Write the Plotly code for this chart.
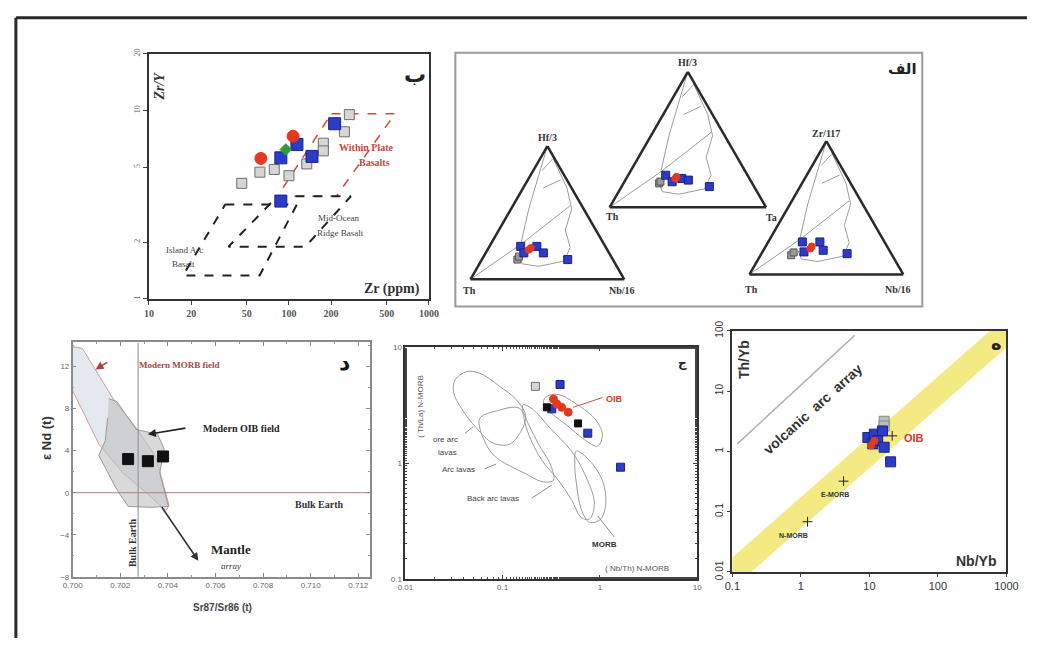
import plotly.graph_objects as go

W, H = 1039, 646
def fx(p): return p / W
def fy(p): return 1 - p / H

# ---------------- Panel A : Zr/Y vs Zr ----------------
ZR_RED = [107, 63];            ZRY_RED = [7.3, 5.56]
ZR_GREEN = [95];               ZRY_GREEN = [6.2]
ZR_BLUE = [114, 87.5, 146, 212, 87.5]
ZRY_BLUE = [6.6, 5.6, 5.7, 8.5, 3.3]
ZR_GRAY = [46, 62, 78.5, 100, 176, 176, 134, 249, 270]
ZRY_GRAY = [4.1, 4.7, 4.86, 4.5, 6.7, 6.1, 5.2, 7.7, 9.5]
WPB_ZR = [201, 573, 218, 82.8, 201];  WPB_ZRY = [9.6, 9.6, 3.5, 3.5, 9.6]
MORB_ZR = [82.8, 277, 131, 37, 82.8]; MORB_ZRY = [3.5, 3.5, 1.89, 1.89, 3.5]
IAB_ZR = [35.1, 114, 61.7, 17.5, 35.1]; IAB_ZRY = [3.17, 3.17, 1.33, 1.33, 3.17]
A_XTICKS = [10, 20, 50, 100, 200, 500, 1000]
A_YTICKS = [1, 2, 5, 10, 20]

# ---------------- Panel B : ternary diagrams ----------------
T1_BLUE = [(0.247, 0.55, 0.203), (0.198, 0.554, 0.248), (0.247, 0.445, 0.308), (0.198, 0.427, 0.375), (0.148, 0.294, 0.558)]
T1_RED = [(0.222, 0.51, 0.268), (0.235, 0.49, 0.275)]
T1_GRAY = [(0.148, 0.621, 0.231), (0.17, 0.6, 0.23)]
T2_BLUE = [(0.237, 0.523, 0.240), (0.189, 0.506, 0.305), (0.213, 0.432, 0.355), (0.201, 0.396, 0.403), (0.153, 0.286, 0.561)]
T2_RED = [(0.213, 0.474, 0.313), (0.225, 0.46, 0.315)]
T2_GRAY = [(0.177, 0.595, 0.228), (0.19, 0.58, 0.23)]
T3_BLUE = [(0.244, 0.534, 0.222), (0.169, 0.561, 0.27), (0.244, 0.42, 0.336), (0.181, 0.43, 0.389), (0.156, 0.287, 0.557)]
T3_RED = [(0.194, 0.507, 0.299), (0.21, 0.49, 0.30)]
T3_GRAY = [(0.144, 0.657, 0.199), (0.165, 0.63, 0.205)]
FIELD_APEX = [(0.988, 0.009, 0.003), (0.770, 0.174, 0.056), (0.528, 0.357, 0.115), (0.262, 0.542, 0.196)]
FIELD_TH = [(0.0, 1.0, 0.0), (0.262, 0.542, 0.196)]
FIELD_DIAG = [(0.262, 0.542, 0.196), (0.552, 0.076, 0.372)]
FIELD_OUTER = [(0.915, 0.008, 0.077), (0.685, 0.030, 0.285), (0.528, 0.078, 0.394), (0.370, 0.198, 0.432),
               (0.237, 0.233, 0.530), (0.136, 0.325, 0.539), (0.097, 0.510, 0.393), (0.116, 0.605, 0.279),
               (0.177, 0.595, 0.228)]
FIELD_A1 = [(0.818, 0.125, 0.057), (0.903, 0.014, 0.083)]
FIELD_A2 = [(0.685, 0.185, 0.130), (0.746, 0.041, 0.213)]

# ---------------- Panel D : eNd vs Sr87/Sr86 ----------------
SR_SAMPLES = [0.70233, 0.70316, 0.70380]
ND_SAMPLES = [3.2, 3.0, 3.45]
MORB_SR = [0.70000, 0.70041, 0.70174, 0.70267, 0.70350, 0.70405, 0.70391, 0.70309, 0.70213, 0.70110, 0.70000]
MORB_ND = [13.9, 13.74, 8.80, 6.17, 3.40, -1.23, -1.70, 0.0, 1.85, 4.63, 9.72]
OIB_SR = [0.70151, 0.70185, 0.70267, 0.70357, 0.70384, 0.70366, 0.70402, 0.70322, 0.70233, 0.70185, 0.70110, 0.70137, 0.70147]
OIB_ND = [8.95, 8.70, 6.02, 5.56, 4.17, 1.85, -1.30, -1.39, -1.30, 0.31, 3.55, 4.94, 7.10]
BULK_EARTH_SR = 0.70275
MANTLE_ARRAY = [(0.70370, -1.23), (0.70528, -6.48)]
OIB_ARROW = [(0.70480, 6.17), (0.70316, 5.56)]
MORB_ARROW = [(0.70151, 12.5), (0.70096, 11.73)]
D_XTICKS = [0.700, 0.702, 0.704, 0.706, 0.708, 0.710, 0.712]
D_YTICKS = [-8, -4, 0, 4, 8, 12]

# ---------------- Panel E : (Th/La)N vs (Nb/Th)N ----------------
E_GRAY_X = [0.217];  E_GRAY_Y = [4.6]
E_BLUE_X = [0.389, 0.32, 0.75, 1.63];  E_BLUE_Y = [4.77, 2.94, 1.81, 0.92]
E_RED_X = [0.333, 0.36, 0.404, 0.472]; E_RED_Y = [3.57, 3.24, 3.03, 2.75]
E_BLACK_X = [0.285, 0.596];  E_BLACK_Y = [3.03, 2.2]
FORE_X = [0.0325, 0.0427, 0.0582, 0.0927, 0.1365, 0.172, 0.1535, 0.117, 0.0793, 0.0538, 0.038, 0.0313, 0.0325]
FORE_Y = [5.25, 6.17, 5.97, 4.61, 3.56, 2.58, 1.87, 1.45, 1.49, 2.0, 2.94, 4.06, 5.25]
ARC_X = [0.058, 0.089, 0.1476, 0.186, 0.234, 0.308, 0.333, 0.254, 0.172, 0.117, 0.0824, 0.0653, 0.058]
ARC_Y = [2.42, 2.84, 2.98, 2.13, 1.45, 0.98, 0.71, 0.69, 0.81, 0.95, 1.15, 1.54, 2.42]
BACK_X = [0.162, 0.201, 0.308, 0.509, 0.695, 0.877, 0.782, 0.643, 0.509, 0.374, 0.254, 0.186, 0.166, 0.162]
BACK_Y = [3.18, 2.94, 2.0, 1.27, 0.81, 0.452, 0.328, 0.338, 0.483, 0.71, 1.05, 1.75, 2.42, 3.18]
EMORB_X = [0.573, 0.782, 1.06, 1.15, 1.02, 0.782, 0.643, 0.573, 0.551, 0.573]
EMORB_Y = [1.27, 1.05, 0.71, 0.452, 0.328, 0.307, 0.398, 0.667, 0.98, 1.27]
EOIB_X = [0.274, 0.360, 0.573, 0.912, 1.06, 0.948, 0.695, 0.454, 0.308, 0.264, 0.274]
EOIB_Y = [3.68, 3.93, 3.24, 2.34, 1.75, 1.40, 1.59, 2.13, 2.75, 3.24, 3.68]
LEADERS_E = [((0.041, 0.0498), (1.81, 2.06)), ((0.0653, 0.0857), (0.89, 0.98)),
             ((0.201, 0.32), (0.50, 0.645)), ((1.40, 0.948), (0.230, 0.349))]
OIB_LEADER_E = ((1.06, 0.53), (3.68, 3.03))
E_XTICKS = [0.01, 0.1, 1, 10]
E_YTICKS = [0.1, 1, 10]

# ---------------- Panel F : Th/Yb vs Nb/Yb ----------------
F_BLUE_X = [9.5, 11.8, 15.5, 11.2, 13.2, 16.4, 20.4]
F_BLUE_Y = [1.70, 1.93, 2.18, 1.33, 1.50, 1.17, 0.67]
F_GRAY_X = [16.4, 16.4];  F_GRAY_Y = [3.16, 2.63]
F_RED_X = [11.8, 10.6];   F_RED_Y = [1.50, 1.25]
ARRAY_LOW_K, ARRAY_HIGH_K = 0.053, 0.174
ARRAY_NB = [0.01, 10000]
ARC_LINE_X = [0.118, 6.1];  ARC_LINE_Y = [1.33, 84]
REF_NAMES = ["N-MORB", "E-MORB", "OIB"]
REF_NB = [1.25, 4.2, 21.5];  REF_TH = [0.068, 0.32, 1.81]
F_TICKS_X = [0.1, 1, 10, 100, 1000]
F_TICKS_Y = [0.01, 0.1, 1, 10, 100]

BLUE, BLUE_EDGE = "#2b3cc8", "#1b2380"
RED = "#e5391f"
GRAY_FILL, GRAY_EDGE = "#d6d6d6", "#6e6e6e"

fig = go.Figure()

def mk(color, size, symbol="square", edge=None, ew=1):
    return dict(color=color, size=size, symbol=symbol, line=dict(color=edge or color, width=ew))

# ---- Panel A traces
for xs, ys, col, dash, wd in [(WPB_ZR, WPB_ZRY, "#d04a3c", "dash", 1.5),
                              (MORB_ZR, MORB_ZRY, "#222", "dash", 2),
                              (IAB_ZR, IAB_ZRY, "#222", "dash", 2)]:
    fig.add_trace(go.Scatter(x=xs, y=ys, xaxis="x", yaxis="y", mode="lines",
                             line=dict(color=col, dash=dash, width=wd), showlegend=False, hoverinfo="skip"))
fig.add_trace(go.Scatter(x=ZR_GRAY, y=ZRY_GRAY, xaxis="x", yaxis="y", mode="markers",
                         marker=mk(GRAY_FILL, 10, "square", GRAY_EDGE, 1), showlegend=False))
fig.add_trace(go.Scatter(x=ZR_BLUE, y=ZRY_BLUE, xaxis="x", yaxis="y", mode="markers",
                         marker=mk(BLUE, 12, "square", BLUE_EDGE), showlegend=False))
fig.add_trace(go.Scatter(x=ZR_GREEN, y=ZRY_GREEN, xaxis="x", yaxis="y", mode="markers",
                         marker=mk("#2f9a3a", 9, "diamond"), showlegend=False))
fig.add_trace(go.Scatter(x=ZR_RED, y=ZRY_RED, xaxis="x", yaxis="y", mode="markers",
                         marker=mk(RED, 12, "circle"), showlegend=False))

# ---- Panel B ternaries
for tn, blues, reds, grays in [("ternary", T1_BLUE, T1_RED, T1_GRAY),
                               ("ternary2", T2_BLUE, T2_RED, T2_GRAY),
                               ("ternary3", T3_BLUE, T3_RED, T3_GRAY)]:
    for line in [FIELD_APEX, FIELD_TH, FIELD_DIAG, FIELD_OUTER, FIELD_A1, FIELD_A2]:
        fig.add_trace(go.Scatterternary(a=[p[0] for p in line], b=[p[1] for p in line], c=[p[2] for p in line],
                                        subplot=tn, mode="lines", line=dict(color="#9c9c9c", width=1),
                                        showlegend=False, hoverinfo="skip"))
    for pts, m in [(grays, mk("#9a9a9a", 7, "square", "#555")),
                   (blues, mk(BLUE, 8, "square", BLUE_EDGE)),
                   (reds, mk(RED, 7, "circle"))]:
        fig.add_trace(go.Scatterternary(a=[p[0] for p in pts], b=[p[1] for p in pts], c=[p[2] for p in pts],
                                        subplot=tn, mode="markers", marker=m, showlegend=False))

# ---- Panel D traces
fig.add_trace(go.Scatter(x=MORB_SR, y=MORB_ND, xaxis="x2", yaxis="y2", mode="lines", fill="toself",
                         fillcolor="rgba(218,225,234,0.75)", line=dict(color="#d39a9a", width=1),
                         showlegend=False, hoverinfo="skip"))
fig.add_trace(go.Scatter(x=OIB_SR, y=OIB_ND, xaxis="x2", yaxis="y2", mode="lines", fill="toself",
                         fillcolor="rgba(192,192,194,0.6)", line=dict(color="#9a9a9a", width=1),
                         showlegend=False, hoverinfo="skip"))
fig.add_trace(go.Scatter(x=[D_XTICKS[0], 0.7125], y=[0, 0], xaxis="x2", yaxis="y2", mode="lines",
                         line=dict(color="#b08080", width=1), showlegend=False, hoverinfo="skip"))
fig.add_trace(go.Scatter(x=[BULK_EARTH_SR, BULK_EARTH_SR], y=[-8, 14.3], xaxis="x2", yaxis="y2", mode="lines",
                         line=dict(color="#8a8a8a", width=1), showlegend=False, hoverinfo="skip"))
fig.add_trace(go.Scatter(x=SR_SAMPLES, y=ND_SAMPLES, xaxis="x2", yaxis="y2", mode="markers",
                         marker=mk("#111", 11, "square"), showlegend=False))

# ---- Panel E traces
for xs, ys in [(FORE_X, FORE_Y), (ARC_X, ARC_Y), (BACK_X, BACK_Y), (EMORB_X, EMORB_Y), (EOIB_X, EOIB_Y)]:
    fig.add_trace(go.Scatter(x=xs, y=ys, xaxis="x3", yaxis="y3", mode="lines", line=dict(color="#9a9a9a", width=1),
                             line_shape="spline", showlegend=False, hoverinfo="skip"))
for lx, ly in LEADERS_E:
    fig.add_trace(go.Scatter(x=list(lx), y=list(ly), xaxis="x3", yaxis="y3", mode="lines",
                             line=dict(color="#8a8a8a", width=1), showlegend=False, hoverinfo="skip"))
fig.add_trace(go.Scatter(x=list(OIB_LEADER_E[0]), y=list(OIB_LEADER_E[1]), xaxis="x3", yaxis="y3", mode="lines",
                         line=dict(color="#d05050", width=1), showlegend=False, hoverinfo="skip"))
fig.add_trace(go.Scatter(x=E_GRAY_X, y=E_GRAY_Y, xaxis="x3", yaxis="y3", mode="markers",
                         marker=mk(GRAY_FILL, 8, "square", GRAY_EDGE), showlegend=False))
fig.add_trace(go.Scatter(x=E_BLUE_X, y=E_BLUE_Y, xaxis="x3", yaxis="y3", mode="markers",
                         marker=mk(BLUE, 8, "square", BLUE_EDGE), showlegend=False))
fig.add_trace(go.Scatter(x=E_RED_X, y=E_RED_Y, xaxis="x3", yaxis="y3", mode="markers",
                         marker=mk(RED, 8, "circle"), showlegend=False))
fig.add_trace(go.Scatter(x=E_BLACK_X, y=E_BLACK_Y, xaxis="x3", yaxis="y3", mode="markers",
                         marker=mk("#111", 7, "square"), showlegend=False))

# ---- Panel F traces
fig.add_trace(go.Scatter(x=[ARRAY_NB[0], ARRAY_NB[1], ARRAY_NB[1], ARRAY_NB[0]],
                         y=[ARRAY_NB[0] * ARRAY_LOW_K, ARRAY_NB[1] * ARRAY_LOW_K,
                            ARRAY_NB[1] * ARRAY_HIGH_K, ARRAY_NB[0] * ARRAY_HIGH_K],
                         xaxis="x4", yaxis="y4", mode="lines", fill="toself", fillcolor="#f3ea84",
                         line=dict(width=0, color="#f3ea84"), showlegend=False, hoverinfo="skip"))
fig.add_trace(go.Scatter(x=ARC_LINE_X, y=ARC_LINE_Y, xaxis="x4", yaxis="y4", mode="lines",
                         line=dict(color="#b0b0b0", width=1.5), showlegend=False, hoverinfo="skip"))
fig.add_trace(go.Scatter(x=F_GRAY_X, y=F_GRAY_Y, xaxis="x4", yaxis="y4", mode="markers",
                         marker=mk("#bdbdbd", 10, "square", "#888"), showlegend=False))
fig.add_trace(go.Scatter(x=F_BLUE_X, y=F_BLUE_Y, xaxis="x4", yaxis="y4", mode="markers",
                         marker=mk(BLUE, 10, "square", BLUE_EDGE), showlegend=False))
fig.add_trace(go.Scatter(x=F_RED_X, y=F_RED_Y, xaxis="x4", yaxis="y4", mode="markers",
                         marker=mk(RED, 7, "circle"), showlegend=False))
fig.add_trace(go.Scatter(x=REF_NB, y=REF_TH, xaxis="x4", yaxis="y4", mode="markers",
                         marker=dict(symbol="cross-thin", size=7, line=dict(color="#222", width=1)),
                         showlegend=False))

# ---------------- Layout ----------------
SERIF = "Liberation Serif"
SANS = "Liberation Sans"

def axis_common(**kw):
    d = dict(showgrid=False, zeroline=False, showline=True, linecolor="#333", linewidth=2, mirror=True)
    d.update(kw)
    return d

layout = dict(
    width=W, height=H, margin=dict(l=0, r=0, t=0, b=0), autosize=False,
    paper_bgcolor="white", plot_bgcolor="white", showlegend=False,
    xaxis=axis_common(domain=[fx(142), fx(428)], anchor="y", type="log", range=[1, 3],
                      tickvals=A_XTICKS, ticktext=["<b>%d</b>" % v for v in A_XTICKS], ticks="outside", ticklen=4,
                      tickfont=dict(family=SERIF, size=10, color="#555")),
    yaxis=axis_common(domain=[fy(297), fy(45)], anchor="x", type="log", range=[0, 1.301],
                      tickvals=A_YTICKS, ticktext=[str(v) for v in A_YTICKS], ticks="outside", ticklen=4,
                      tickangle=-90, tickfont=dict(family=SERIF, size=8, color="#666")),
    xaxis2=axis_common(domain=[fx(64), fx(368)], anchor="y2", range=[0.700, 0.7125], linecolor="#8a8a8a",
                       linewidth=1.5, tickvals=D_XTICKS, ticktext=["%.3f" % v for v in D_XTICKS],
                       ticks="inside", ticklen=4, tickcolor="#888", mirror="allticks",
                       minor=dict(dtick=0.001, ticks="inside", ticklen=2, tickcolor="#999"),
                       tickfont=dict(family=SANS, size=8, color="#666")),
    yaxis2=axis_common(domain=[fy(583), fy(342)], anchor="x2", range=[-8, 14.3], linecolor="#8a8a8a",
                       linewidth=1.5, tickvals=D_YTICKS, ticks="inside", ticklen=4, tickcolor="#888",
                       mirror="allticks", minor=dict(dtick=2, ticks="inside", ticklen=2, tickcolor="#999"),
                       tickfont=dict(family=SANS, size=8, color="#666")),
    xaxis3=axis_common(domain=[fx(404), fx(702)], anchor="y3", type="log", range=[-2, 1],
                       tickvals=E_XTICKS, ticktext=["0.01", "0.1", "1", "10"], ticks="inside", ticklen=4,
                       mirror="allticks", minor=dict(ticks="inside", ticklen=2),
                       tickfont=dict(family=SANS, size=8, color="#666")),
    yaxis3=axis_common(domain=[fy(585), fy(347)], anchor="x3", type="log", range=[-1, 1],
                       tickvals=E_YTICKS, ticktext=["0.1", "1", "10"], ticks="inside", ticklen=4,
                       mirror="allticks", minor=dict(ticks="inside", ticklen=2),
                       tickfont=dict(family=SANS, size=8, color="#666")),
    xaxis4=axis_common(domain=[fx(738), fx(1018)], anchor="y4", type="log", range=[-1, 3],
                       tickvals=F_TICKS_X, ticktext=["0.1", "1", "10", "100", "1000"], ticks="outside",
                       ticklen=3, tickfont=dict(family=SANS, size=11, color="#333")),
    yaxis4=axis_common(domain=[fy(578), fy(330)], anchor="x4", type="log", range=[-2, 2],
                       tickvals=F_TICKS_Y, ticktext=["0.01", "0.1", "1", "10", "100"], ticks="outside",
                       ticklen=3, tickangle=-90, tickfont=dict(family=SANS, size=10, color="#333")),
)

tern_axis = dict(showgrid=False, showticklabels=False, ticks="", showline=True, linecolor="#2a2a2a",
                 linewidth=2.5, min=0, title=dict(text=""))
for name, x0, x1, y0, y1 in [("ternary", 470, 628, 140, 277), ("ternary2", 612, 773, 63.6, 203),
                              ("ternary3", 755, 913, 135, 272)]:
    layout[name] = dict(domain=dict(x=[fx(x0), fx(x1)], y=[fy(y1), fy(y0)]), sum=1, bgcolor="rgba(0,0,0,0)",
                        aaxis=tern_axis, baxis=tern_axis, caxis=tern_axis)

fig.update_layout(**layout)

# frames
shapes = [
    dict(type="line", xref="paper", yref="paper", x0=fx(6), x1=1, y0=fy(8), y1=fy(8),
         line=dict(color="#2a2a2a", width=3)),
    dict(type="line", xref="paper", yref="paper", x0=fx(6), x1=fx(6), y0=fy(8), y1=0,
         line=dict(color="#2a2a2a", width=3)),
    dict(type="rect", xref="paper", yref="paper", x0=fx(455), x1=fx(932), y0=fy(305), y1=fy(44),
         line=dict(color="#9a9a9a", width=2)),
]
fig.update_layout(shapes=shapes)

anns = []
def txt(x, y, s, size=10, color="#222", family=SERIF, bold=False, italic=False, angle=0, xanchor="center"):
    t = s
    if bold:
        t = "<b>" + t + "</b>"
    if italic:
        t = "<i>" + t + "</i>"
    anns.append(dict(x=fx(x), y=fy(y), xref="paper", yref="paper", text=t, showarrow=False,
                     font=dict(size=size, color=color, family=family), textangle=angle,
                     xanchor=xanchor, yanchor="middle"))

# Panel A texts
txt(153, 78, "Zr/Y", 14, "#333", SERIF, True, True, -90)
txt(390, 287, "Zr (ppm)", 14, "#333", SERIF, True)
txt(414, 66, "ب", 22, "#222", "DejaVu Sans", True)
txt(364, 141, "Within Plate", 10, "#c8453a", SERIF, True)
txt(372, 157, "Basalts", 10, "#c8453a", SERIF, True)
txt(336, 214, "Mid-Ocean", 9, "#444", SERIF)
txt(338, 229, "Ridge Basalt", 9, "#444", SERIF)
txt(178, 247, "Island Arc", 9, "#444", SERIF)
txt(177, 261, "Basalt", 9, "#444", SERIF)

# Panel B texts
txt(549, 131, "Hf/3", 10, "#333", SERIF, True)
txt(692, 54, "Hf/3", 10, "#333", SERIF, True)
txt(834, 127, "Zr/117", 10, "#333", SERIF, True)
txt(469, 289, "Th", 10, "#333", SERIF, True)
txt(625, 289, "Nb/16", 10, "#333", SERIF, True)
txt(616, 212, "Th", 10, "#333", SERIF, True)
txt(778, 213, "Ta", 10, "#333", SERIF, True)
txt(758, 287, "Th", 10, "#333", SERIF, True)
txt(907, 287, "Nb/16", 10, "#333", SERIF, True)
txt(912, 61, "الف", 15, "#222", "DejaVu Sans", True)

# Panel D texts
txt(38, 440, "ε Nd (t)", 13, "#333", SANS, True, False, -90)
txt(217, 615, "Sr87/Sr86 (t)", 10, "#444", SANS, True)
txt(173, 365, "Modern MORB field", 9, "#a24848", SERIF, True)
txt(237, 430, "Modern OIB field", 10, "#222", SERIF, True)
txt(316, 509, "Bulk Earth", 10, "#333", SERIF, True)
txt(125, 548, "Bulk Earth", 10, "#333", SERIF, True, False, -90)
txt(226, 555, "Mantle", 13, "#222", SERIF, True)
txt(226, 572, "array", 9, "#333", SERIF, False, True)
txt(342, 363, "د", 22, "#111", "DejaVu Sans", True)

# Panel E texts
txt(420, 408, "( Th/La) N-MORB", 8, "#555", SANS, False, False, -90)
txt(641, 575, "( Nb/Th) N-MORB", 8, "#555", SANS)
txt(445, 442, "ore arc", 8, "#444", SANS)
txt(447, 455, "lavas", 8, "#444", SANS)
txt(458, 473, "Arc lavas", 8, "#444", SANS)
txt(493, 503, "Back arc lavas", 8, "#444", SANS)
txt(607, 550, "MORB", 8, "#333", SANS, True)
txt(618, 400, "OIB", 9, "#d03a2a", SANS, True)
txt(687, 363, "ج", 12, "#222", "DejaVu Sans", True)

# Panel F texts
txt(750, 360, "Th/Yb", 14, "#333", SANS, True, False, -90)
txt(987, 567, "Nb/Yb", 14, "#333", SANS, True)
txt(820, 410, "volcanic  arc  array", 14, "#333", SANS, True, False, -42)
txt(800, 541, "N-MORB", 7, "#333", SANS, True)
txt(843, 498, "E-MORB", 7, "#333", SANS, True)
txt(924, 440, "OIB", 11, "#d03a2a", SANS, True)
txt(1008, 343, "ه", 18, "#222", "DejaVu Sans", True)

# arrows (panel D)
for (tail, head, col) in [(MANTLE_ARRAY[0], MANTLE_ARRAY[1], "#333"), (OIB_ARROW[0], OIB_ARROW[1], "#222"),
                          (MORB_ARROW[0], MORB_ARROW[1], "#b04040")]:
    anns.append(dict(x=head[0], y=head[1], ax=tail[0], ay=tail[1], xref="x2", yref="y2", axref="x2", ayref="y2",
                     text="", showarrow=True, arrowhead=2, arrowsize=1, arrowwidth=1.6, arrowcolor=col))

fig.update_layout(annotations=anns)
fig.write_html("out.html", config={"displayModeBar": False},
               post_script="document.body.style.margin='0';document.body.style.overflow='hidden';")
